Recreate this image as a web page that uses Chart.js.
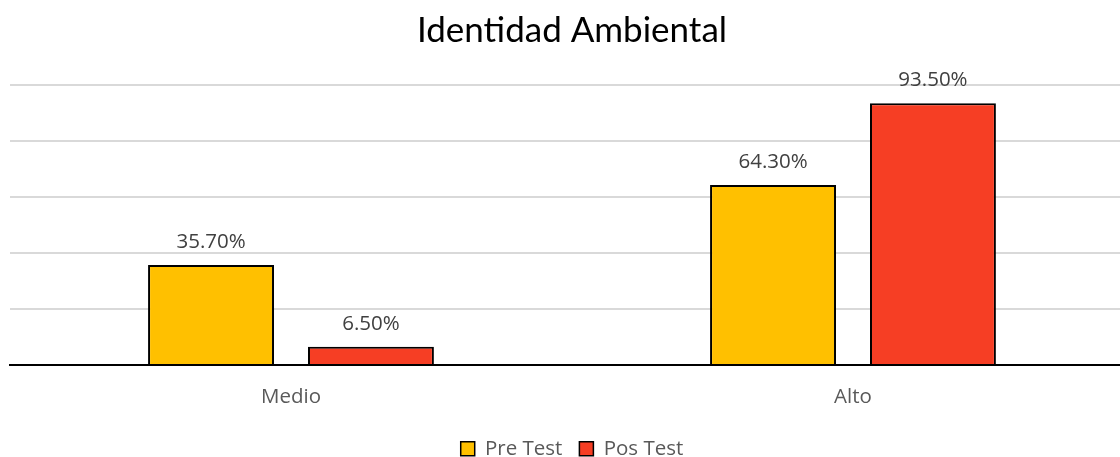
<!DOCTYPE html>
<html>
<head>
<meta charset="utf-8">
<script src="https://cdn.jsdelivr.net/npm/chart.js@4/dist/chart.umd.min.js"></script>
<style>
html,body{margin:0;padding:0;overflow:hidden;background:#fff;}
#wrap{width:1144px;height:469px;position:relative;}
</style>
</head>
<body>
<div id="wrap"><canvas id="c"></canvas></div>
<script>
const categories = ["Medio", "Alto"];
const preTest = [35.7, 64.3];
const posTest = [6.5, 93.5];
const seriesNames = ["Pre Test", "Pos Test"];
const chartTitle = "Identidad Ambiental";

const labelPlugin = {
  id: 'valueLabels',
  afterDatasetsDraw(chart) {
    const ctx = chart.ctx;
    ctx.save();
    ctx.font = '20.5px "Open Sans"';
    ctx.fillStyle = '#404040';
    ctx.textAlign = 'center';
    ctx.textBaseline = 'alphabetic';
    chart.data.datasets.forEach((ds, i) => {
      chart.getDatasetMeta(i).data.forEach((bar, j) => {
        ctx.fillText(ds.data[j].toFixed(2) + '%', bar.x, bar.y - 17);
      });
    });
    ctx.restore();
  }
};

new Chart(document.getElementById('c'), {
  type: 'bar',
  data: {
    labels: categories,
    datasets: [
      { label: seriesNames[0], data: preTest, backgroundColor: '#FFC000', borderColor: '#000', borderWidth: 2 },
      { label: seriesNames[1], data: posTest, backgroundColor: '#F63E24', borderColor: '#000', borderWidth: 2 }
    ]
  },
  options: {
    responsive: true,
    maintainAspectRatio: false,
    animation: false,
    layout: { padding: { left: 10, right: 10, top: 10, bottom: 0 } },
    datasets: { bar: { categoryPercentage: 0.569, barPercentage: 0.7875 } },
    plugins: {
      title: { display: true, text: chartTitle, color: '#000', font: { family: 'Lato', size: 35, weight: 'normal' }, padding: { top: 0, bottom: 33 } },
      legend: {
        position: 'bottom',
        labels: { color: '#595959', font: { family: 'Open Sans', size: 20.5 }, boxWidth: 14, boxHeight: 14, padding: 17,
          generateLabels(chart) {
            return chart.data.datasets.map((ds, i) => ({ text: ds.label, fillStyle: ds.backgroundColor, strokeStyle: '#000', lineWidth: 1.5, datasetIndex: i, fontColor: '#595959' }));
          } }
      },
      tooltip: { enabled: false }
    },
    scales: {
      x: {
        grid: { display: false },
        border: { display: true, color: '#000', width: 2 },
        ticks: { color: '#595959', font: { family: 'Open Sans', size: 20.5 }, padding: 12 }
      },
      y: {
        min: 0, max: 100,
        ticks: { display: false, stepSize: 20 },
        grid: { color: '#d9d9d9', lineWidth: 2, drawTicks: false },
        border: { display: false }
      }
    }
  },
  plugins: [labelPlugin]
});
</script>
</body>
</html>
